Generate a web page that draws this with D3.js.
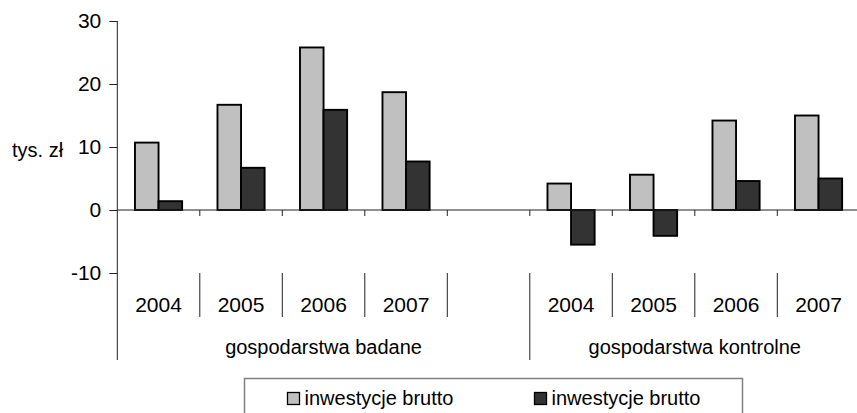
<!DOCTYPE html>
<html>
<head>
<meta charset="utf-8">
<script src="https://cdn.jsdelivr.net/npm/d3@7/dist/d3.min.js"></script>
<style>
  html, body { margin: 0; padding: 0; background: #fff; }
  svg { display: block; font-family: "Liberation Sans", Arial, sans-serif; }
</style>
</head>
<body>
<svg id="chart" width="857" height="413"></svg>
<script>
// Years shown in each group; the empty slot separates the two groups
const groups = ["gospodarstwa badane", "gospodarstwa kontrolne"];
const yearsBadane = ["2004", "2005", "2006", "2007", ""];
const yearsKontrolne = ["2004", "2005", "2006", "2007"];
// Investment values, thousand PLN (null = empty separator slot)
const seriesNames = ["inwestycje brutto", "inwestycje brutto"];
const lightValues = [10.7, 16.7, 25.8, 18.7, null, 4.2, 5.6, 14.2, 15.0];
const darkValues  = [1.4, 6.7, 15.9, 7.7, null, -5.5, -4.1, 4.6, 5.0];
const yTicks = [-10, 0, 10, 20, 30];
const yLabel = "tys. zł";

const categories = [
  ...yearsBadane.map((y, i) => ({ key: "b" + i, year: y, group: 0 })),
  ...yearsKontrolne.map((y, i) => ({ key: "k" + i, year: y, group: 1 }))
];
const colors = ["#c0c0c0", "#333333"];
const series = [lightValues, darkValues];

const svg = d3.select("#chart");
const plotLeft = 117.3, plotRight = 859.8, plotTop = 21, plotBottom = 273;
const yearLineEnd = 317, groupLineEnd = 360;
const labelSize = 21;

const x = d3.scaleBand().domain(categories.map(c => c.key)).range([plotLeft, plotRight]).padding(0);
const xs = d3.scaleBand().domain([0, 1]).range([0, x.bandwidth()]).paddingInner(0).paddingOuter(0.75);
const y = d3.scaleLinear().domain([-10, 30]).range([plotBottom, plotTop]);

// bars
categories.forEach((c, i) => {
  series.forEach((vals, s) => {
    const v = vals[i];
    if (v == null) return;
    svg.append("rect")
      .attr("x", x(c.key) + xs(s))
      .attr("y", y(Math.max(0, v)))
      .attr("width", xs.bandwidth())
      .attr("height", Math.abs(y(v) - y(0)))
      .attr("fill", colors[s])
      .attr("stroke", "#000")
      .attr("stroke-width", 1.9);
  });
});

// value axis
const yAxis = svg.append("g")
  .attr("transform", `translate(${plotLeft},0)`)
  .call(d3.axisLeft(y).tickValues(yTicks).tickSize(8).tickPadding(8).tickFormat(d => String(d)));
yAxis.select(".domain").remove();
yAxis.selectAll(".tick line").attr("stroke", "#222");
yAxis.selectAll("text").attr("font-size", labelSize).attr("fill", "#000")
  .attr("font-family", "'Liberation Sans', Arial, sans-serif");

// vertical axis line continues down to the group dividers
svg.append("line").attr("x1", plotLeft).attr("x2", plotLeft).attr("y1", plotTop).attr("y2", groupLineEnd)
  .attr("stroke", "#222").attr("stroke-width", 1);

// zero line with category ticks
svg.append("line").attr("x1", plotLeft).attr("x2", 857).attr("y1", y(0)).attr("y2", y(0))
  .attr("stroke", "#222").attr("stroke-width", 1.2);
categories.forEach((c, i) => {
  if (i === 0) return;
  svg.append("line").attr("x1", x(c.key)).attr("x2", x(c.key))
    .attr("y1", y(0)).attr("y2", y(0) + 6).attr("stroke", "#222");
});

// year labels and dividers
categories.forEach((c, i) => {
  svg.append("text")
    .attr("x", x(c.key) + x.bandwidth() / 2)
    .attr("y", 312)
    .attr("text-anchor", "middle")
    .attr("font-size", labelSize)
    .attr("fill", "#000")
    .text(c.year);
  const bx = x(c.key) + x.bandwidth();
  const next = categories[i + 1];
  const isGroupEdge = !next || next.group !== c.group;
  svg.append("line").attr("x1", bx).attr("x2", bx)
    .attr("y1", plotBottom).attr("y2", isGroupEdge ? groupLineEnd : yearLineEnd)
    .attr("stroke", "#222");
});

// group labels
groups.forEach((g, gi) => {
  const cats = categories.filter(c => c.group === gi);
  const x0 = x(cats[0].key), x1 = x(cats[cats.length - 1].key) + x.bandwidth();
  svg.append("text")
    .attr("x", (x0 + x1) / 2)
    .attr("y", 354)
    .attr("text-anchor", "middle")
    .attr("font-size", 20)
    .attr("fill", "#000")
    .text(g);
});

// axis title
svg.append("text").attr("x", 12).attr("y", 157).attr("font-size", 20).attr("fill", "#000").text(yLabel);

// legend
const legend = svg.append("g");
legend.append("rect").attr("x", 244.5).attr("y", 378.5).attr("width", 498).attr("height", 60)
  .attr("fill", "#fff").attr("stroke", "#808080").attr("stroke-width", 1.5);
const legendX = [287.5, 534.5];
seriesNames.forEach((name, s) => {
  legend.append("rect").attr("x", legendX[s]).attr("y", 392.5).attr("width", 12).attr("height", 12)
    .attr("fill", colors[s]).attr("stroke", "#000").attr("stroke-width", 1.3);
  legend.append("text").attr("x", legendX[s] + 17).attr("y", 405).attr("font-size", 20)
    .attr("fill", "#000").text(name);
});
</script>
</body>
</html>
